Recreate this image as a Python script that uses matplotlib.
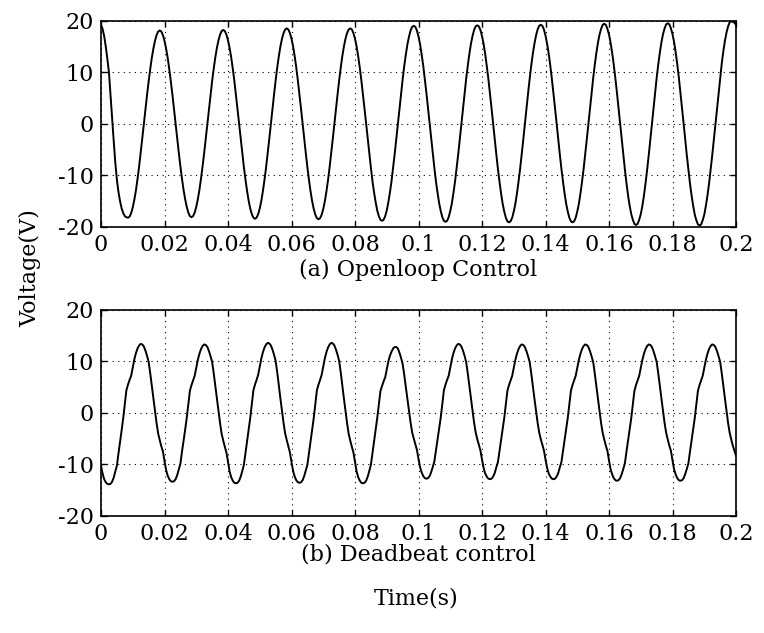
import numpy as np
import matplotlib.pyplot as plt

# sampled output voltage, one value every 0.5 ms from t = 0 to 0.2 s
sample_period = 0.0005

# (a) open loop
openloop_v = [
    19.2, 18.4, 17.0, 15.0, 12.6, 10.0, 5.5, 0.8, -3.3, -7.5,
    -10.8, -13.2, -15.0, -16.4, -17.3, -17.9, -18.1, -18.2, -18.0, -17.3,
    -16.2, -14.7, -12.9, -10.7, -8.3, -5.6, -2.8, 0.0,
    2.8, 5.6, 8.2, 10.6, 12.8, 14.6, 16.1, 17.2, 17.9, 18.1, 17.9, 17.2, 16.1, 14.6, 12.8, 10.6, 8.2, 5.6, 2.8, 0.0,
    -2.8, -5.6, -8.2, -10.6, -12.8, -14.6, -16.1, -17.2, -17.9, -18.1, -17.9, -17.2, -16.1, -14.6, -12.8, -10.6, -8.2, -5.6, -2.8, 0.0,
    2.8, 5.6, 8.3, 10.7, 12.9, 14.7, 16.2, 17.3, 18.0, 18.2, 18.0, 17.3, 16.2, 14.7, 12.9, 10.7, 8.3, 5.6, 2.8, 0.0,
    -2.9, -5.7, -8.4, -10.8, -13.0, -14.9, -16.4, -17.5, -18.2, -18.4, -18.2, -17.5, -16.4, -14.9, -13.0, -10.8, -8.4, -5.7, -2.9, 0.0,
    2.9, 5.7, 8.4, 10.9, 13.1, 15.0, 16.5, 17.6, 18.3, 18.5, 18.3, 17.6, 16.5, 15.0, 13.1, 10.9, 8.4, 5.7, 2.9, 0.0,
    -2.9, -5.7, -8.4, -10.9, -13.1, -15.0, -16.5, -17.6, -18.3, -18.5, -18.3, -17.6, -16.5, -15.0, -13.1, -10.9, -8.4, -5.7, -2.9, 0.0,
    2.9, 5.7, 8.4, 10.9, 13.1, 15.0, 16.5, 17.6, 18.3, 18.5, 18.3, 17.6, 16.5, 15.0, 13.1, 10.9, 8.4, 5.7, 2.9, 0.0,
    -2.9, -5.8, -8.5, -11.1, -13.3, -15.2, -16.8, -17.9, -18.6, -18.8, -18.6, -17.9, -16.8, -15.2, -13.3, -11.1, -8.5, -5.8, -2.9, 0.0,
    3.0, 5.9, 8.6, 11.2, 13.4, 15.4, 16.9, 18.1, 18.8, 19.0, 18.8, 18.1, 16.9, 15.4, 13.4, 11.2, 8.6, 5.9, 3.0, 0.0,
    -3.0, -5.9, -8.6, -11.2, -13.4, -15.4, -16.9, -18.1, -18.8, -19.0, -18.8, -18.1, -16.9, -15.4, -13.4, -11.2, -8.6, -5.9, -3.0, 0.0,
    3.0, 5.9, 8.7, 11.2, 13.5, 15.5, 17.0, 18.2, 18.9, 19.1, 18.9, 18.2, 17.0, 15.5, 13.5, 11.2, 8.7, 5.9, 3.0, 0.0,
    -3.0, -5.9, -8.7, -11.2, -13.5, -15.5, -17.0, -18.2, -18.9, -19.1, -18.9, -18.2, -17.0, -15.5, -13.5, -11.2, -8.7, -5.9, -3.0, 0.0,
    3.0, 5.9, 8.7, 11.3, 13.6, 15.5, 17.1, 18.3, 19.0, 19.2, 19.0, 18.3, 17.1, 15.5, 13.6, 11.3, 8.7, 5.9, 3.0, 0.0,
    -3.0, -5.9, -8.7, -11.2, -13.5, -15.5, -17.0, -18.2, -18.9, -19.1, -18.9, -18.2, -17.0, -15.5, -13.5, -11.2, -8.7, -5.9, -3.0, 0.0,
    3.0, 6.0, 8.8, 11.4, 13.7, 15.7, 17.3, 18.4, 19.2, 19.4, 19.2, 18.4, 17.3, 15.7, 13.7, 11.4, 8.8, 6.0, 3.0, 0.0,
    -3.1, -6.1, -8.9, -11.5, -13.9, -15.9, -17.5, -18.6, -19.4, -19.6, -19.4, -18.6, -17.5, -15.9, -13.9, -11.5, -8.9, -6.1, -3.1, 0.0,
    3.0, 6.0, 8.9, 11.5, 13.8, 15.8, 17.4, 18.5, 19.3, 19.5, 19.3, 18.5, 17.4, 15.8, 13.8, 11.5, 8.9, 6.0, 3.0, 0.0,
    -3.1, -6.1, -8.9, -11.6, -13.9, -15.9, -17.6, -18.7, -19.5, -19.7, -19.5, -18.7, -17.6, -15.9, -13.9, -11.6, -8.9, -6.1, -3.1, 0.0,
    3.1, 6.1, 9.0, 11.7, 14.1, 16.1, 17.7, 18.9, 19.7, 19.9, 19.8, 19.6, 19.2,
]

# (b) deadbeat
deadbeat_v = [
    -10.3, -11.8, -12.9, -13.5, -13.8, -13.9,
    -13.8, -13.4, -12.6, -11.4, -10.3, -7.9, -5.7, -3.4, -1.0,
    1.7, 4.4, 5.5, 6.4, 7.2, 8.8, 10.4, 11.6, 12.5, 13.1, 13.4, 13.3, 12.9, 12.1, 11.1, 9.9, 7.7, 5.3, 2.8, 0.4,
    -2.0, -4.0, -5.3, -6.5, -7.5, -9.4, -11.1, -12.2, -12.9, -13.3, -13.4,
    -13.3, -12.9, -12.1, -11.0, -9.9, -7.6, -5.5, -3.3, -1.0,
    1.7, 4.3, 5.4, 6.3, 7.2, 8.8, 10.3, 11.5, 12.4, 13.0, 13.3, 13.2, 12.8, 12.0, 11.0, 9.9, 7.7, 5.2, 2.8, 0.4,
    -2.0, -4.1, -5.4, -6.6, -7.7, -9.6, -11.4, -12.5, -13.2, -13.6, -13.7,
    -13.6, -13.2, -12.4, -11.3, -10.1, -7.8, -5.6, -3.3, -1.0,
    1.7, 4.4, 5.5, 6.4, 7.4, 9.0, 10.6, 11.8, 12.7, 13.3, 13.6, 13.5, 13.1, 12.3, 11.3, 10.1, 7.9, 5.3, 2.8, 0.4,
    -2.0, -4.0, -5.3, -6.5, -7.7, -9.6, -11.3, -12.4, -13.1, -13.5, -13.6,
    -13.5, -13.1, -12.3, -11.2, -10.1, -7.8, -5.5, -3.3, -1.0,
    1.7, 4.4, 5.5, 6.4, 7.4, 9.0, 10.6, 11.8, 12.7, 13.3, 13.6, 13.5, 13.1, 12.3, 11.3, 10.1, 7.9, 5.3, 2.8, 0.4,
    -2.0, -4.1, -5.4, -6.6, -7.7, -9.6, -11.4, -12.5, -13.2, -13.6, -13.7,
    -13.6, -13.2, -12.4, -11.3, -10.1, -7.8, -5.6, -3.3, -1.0,
    1.6, 4.2, 5.2, 6.1, 6.9, 8.4, 10.0, 11.1, 11.9, 12.5, 12.8, 12.8, 12.5, 11.7, 10.7, 9.5, 7.4, 5.0, 2.7, 0.4,
    -1.9, -3.8, -5.0, -6.1, -7.2, -9.0, -10.6, -11.6, -12.3, -12.7, -12.8,
    -12.7, -12.3, -11.5, -10.5, -9.4, -7.3, -5.2, -3.1, -0.9,
    1.7, 4.4, 5.5, 6.4, 7.2, 8.8, 10.4, 11.6, 12.5, 13.1, 13.4, 13.3, 12.9, 12.1, 11.1, 9.9, 7.7, 5.3, 2.8, 0.4,
    -1.9, -3.8, -5.1, -6.2, -7.3, -9.1, -10.7, -11.8, -12.4, -12.8, -12.9,
    -12.8, -12.4, -11.7, -10.6, -9.6, -7.4, -5.3, -3.2, -1.0,
    1.7, 4.3, 5.4, 6.3, 7.2, 8.8, 10.3, 11.5, 12.4, 13.0, 13.3, 13.2, 12.8, 12.0, 11.0, 9.9, 7.7, 5.2, 2.8, 0.4,
    -1.9, -3.8, -5.1, -6.2, -7.3, -9.1, -10.7, -11.8, -12.4, -12.8, -12.9,
    -12.8, -12.4, -11.7, -10.6, -9.6, -7.4, -5.3, -3.2, -1.0,
    1.7, 4.3, 5.4, 6.3, 7.2, 8.8, 10.3, 11.5, 12.4, 13.0, 13.3, 13.2, 12.8, 12.0, 11.0, 9.9, 7.7, 5.2, 2.8, 0.4,
    -2.0, -3.9, -5.2, -6.4, -7.4, -9.3, -11.0, -12.0, -12.7, -13.1, -13.2,
    -13.1, -12.7, -11.9, -10.9, -9.8, -7.5, -5.4, -3.2, -1.0,
    1.7, 4.3, 5.4, 6.3, 7.2, 8.8, 10.3, 11.5, 12.4, 13.0, 13.3, 13.2, 12.8, 12.0, 11.0, 9.9, 7.7, 5.2, 2.8, 0.4,
    -2.0, -3.9, -5.2, -6.4, -7.4, -9.3, -11.0, -12.0, -12.7, -13.1, -13.2,
    -13.1, -12.7, -11.9, -10.9, -9.8, -7.5, -5.4, -3.2, -1.0,
    1.7, 4.3, 5.4, 6.3, 7.2, 8.8, 10.3, 11.5, 12.4, 13.0, 13.3, 13.2, 12.8, 12.0, 11.0, 9.9, 7.7, 5.2, 2.8, 0.4,
    -2.0, -3.9, -5.2, -6.4, -7.4, -8.3,
]

x_ticks = [0, 0.02, 0.04, 0.06, 0.08, 0.1, 0.12, 0.14, 0.16, 0.18, 0.2]
x_tick_labels = ['0', '0.02', '0.04', '0.06', '0.08', '0.1', '0.12', '0.14', '0.16', '0.18', '0.2']
y_ticks = [-20, -10, 0, 10, 20]
y_tick_labels = ['-20', '-10', '0', '10', '20']

plt.rcParams['font.family'] = 'DejaVu Serif'
plt.rcParams['font.size'] = 16

fig = plt.figure(figsize=(7.64, 6.33), dpi=100)
ax_a = fig.add_axes([0.1322, 0.6414, 0.8312, 0.3259])
ax_b = fig.add_axes([0.1322, 0.1853, 0.8312, 0.3250])

for ax, v in ((ax_a, openloop_v), (ax_b, deadbeat_v)):
    t = np.arange(len(v)) * sample_period
    ax.plot(t, v, color='black', linewidth=1.4)
    ax.set_xlim(0, 0.2)
    ax.set_ylim(-20, 20)
    ax.set_xticks(x_ticks)
    ax.set_xticklabels(x_tick_labels)
    ax.set_yticks(y_ticks)
    ax.set_yticklabels(y_tick_labels)
    ax.tick_params(direction='in', length=4, width=1, top=True, right=True, pad=5)
    ax.grid(True, color='black', linestyle=(0, (1, 4)), linewidth=0.8)
    for s in ax.spines.values():
        s.set_linewidth(1.2)

fig.text(0.5478, 1 - 270 / 633, '(a) Openloop Control', ha='center', va='center')
fig.text(0.5478, 1 - 555 / 633, '(b) Deadbeat control', ha='center', va='center')
fig.text(0.545, 1 - 598 / 633, 'Time(s)', ha='center', va='center')
fig.text(30 / 764, 1 - 268 / 633, 'Voltage(V)', rotation=90, ha='center', va='center')

fig.savefig('out.png', dpi=100)
